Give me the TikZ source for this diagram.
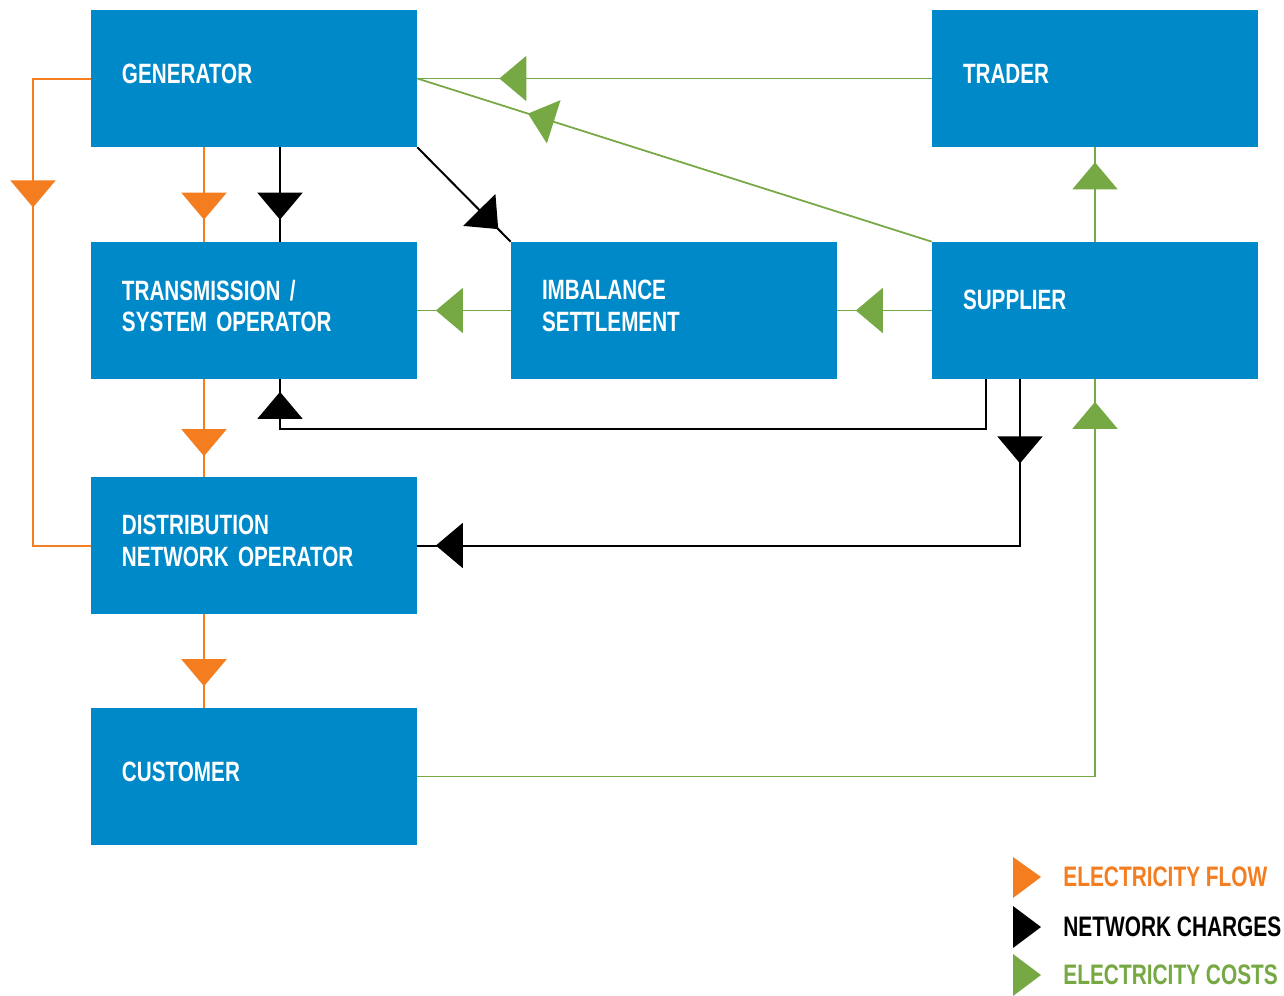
\documentclass[tikz,border=0pt]{standalone}
\usepackage{fontspec}
\setmainfont{Liberation Sans}[FakeStretch=0.74]
\usetikzlibrary{arrows.meta,decorations.markings}
\definecolor{boxblue}{RGB}{0,137,201}
\definecolor{floworange}{RGB}{244,125,32}
\definecolor{costgreen}{RGB}{118,168,68}

\begin{document}
\begin{tikzpicture}[x=0.2mm, y=-0.2mm,
	party/.style={fill=boxblue, text=white, minimum width=65.2mm, minimum height=27.4mm, text width=52.8mm, inner xsep=6.2mm, inner ysep=0pt, text depth=2mm, align=left, font=\fontsize{15.9}{18.1}\selectfont\bfseries},
	twoline/.style={text depth=8.2mm},
	legend/.style={anchor=west, inner sep=0pt, font=\fontsize{16.05}{18.1}\selectfont\bfseries},
	flow/.style={floworange, line width=0.4mm},
	charge/.style={black, line width=0.4mm},
	cost/.style={costgreen, line width=0.35mm},
	headat/.style={postaction={decorate, decoration={markings, mark=at position #1 with {\arrow{Triangle[length=5.4mm,width=9mm]}}}}}]

	\useasboundingbox (0,0) rectangle (1284,995);

	\node[party] (gen) at (254,78.5) {GENERATOR};
	\node[party] (trader) at (1095,78.5) {TRADER};
	\node[party, twoline] (tso) at (254,310.5) {TRANSMISSION /\\SYSTEM OPERATOR};
	\node[party, twoline] (imb) at (674,310.5) {IMBALANCE\\SETTLEMENT};
	\node[party, text depth=4.4mm] (supplier) at (1095,310.5) {SUPPLIER};
	\node[party, twoline] (dno) at (254,545.5) {DISTRIBUTION\\NETWORK OPERATOR};
	\node[party] (customer) at (254,776.5) {CUSTOMER};

	% electricity flow
	\draw[flow, headat=37.3mm] (gen.west) -- (33,0 |- gen.west) -- (33,0 |- dno.west) -- (dno.west);
	\draw[flow, headat=-4.4mm] (204,0 |- gen.south) -- (204,0 |- tso.north);
	\draw[flow, headat=-4.1mm] (204,0 |- tso.south) -- (204,0 |- dno.north);
	\draw[flow, headat=-4.3mm] (204,0 |- dno.south) -- (204,0 |- customer.north);

	% network charges
	\draw[charge, headat=-4.4mm] (280,0 |- gen.south) -- (280,0 |- tso.north);
	\draw[charge, headat=-3.5mm] (gen.south east) -- (imb.north west);
	\draw[charge, headat=-2.5mm] (986,0 |- supplier.south) -- (986,429) -- (280,429) -- (280,0 |- tso.south);
	\draw[charge, headat=16.8mm, headat=-3.7mm] (1020,0 |- supplier.south) |- (dno.east);

	% electricity costs
	\draw[cost, headat=-16.4mm] (trader.west) -- (gen.east);
	\draw[cost, headat=-23.2mm] (supplier.north west) -- (gen.east);
	\draw[cost, headat=-3.7mm] (imb.west) -- (tso.east);
	\draw[cost, headat=-3.7mm] (supplier.west) -- (imb.east);
	\draw[cost, headat=-3mm] (supplier.north) -- (trader.south);
	\draw[cost, headat=-4.5mm] (customer.east) -| (supplier.south);

	% legend
	\fill[floworange] (1013,857) -- (1041,877) -- (1013,898) -- cycle;
	\fill[black] (1013,906) -- (1041,927) -- (1013,948) -- cycle;
	\fill[costgreen] (1013,954) -- (1041,975) -- (1013,996) -- cycle;
	\node[legend, floworange] (lflow) at (1063,877) {ELECTRICITY FLOW};
	\node[legend, black] (lcharge) at (1063,927) {NETWORK CHARGES};
	\node[legend, costgreen] (lcost) at (1063,975) {ELECTRICITY COSTS};

\end{tikzpicture}
\end{document}
